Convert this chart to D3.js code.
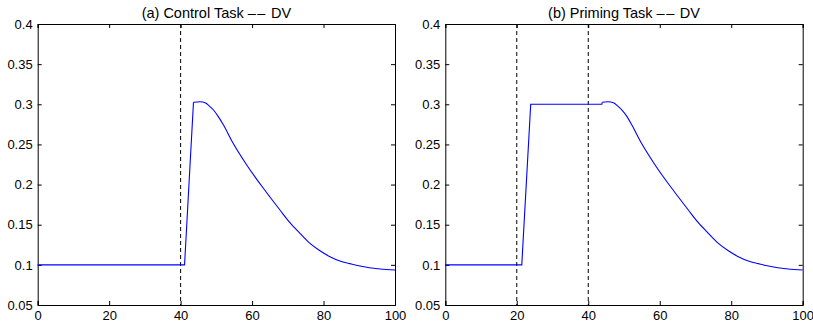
<!DOCTYPE html>
<html>
<head>
<meta charset="utf-8">
<script src="https://cdn.jsdelivr.net/npm/d3@7"></script>
<style>
  body { margin: 0; background: #fff; }
  svg { display: block; font-family: "Liberation Sans", Arial, Helvetica, sans-serif; }
</style>
</head>
<body>
<svg id="chart" width="813" height="329"></svg>
<script>
// tick values shared by both panels
const xTicks = [0, 20, 40, 60, 80, 100];
const yTicks = [0.05, 0.1, 0.15, 0.2, 0.25, 0.3, 0.35, 0.4];

// (a) control task -- DV trace (rise part, then smooth decay part)
const controlRiseX = [0, 41.1, 43.6];
const controlRiseY = [0.1, 0.1, 0.3025];
const controlDecayX = [43.6, 45.4, 47.0, 48.0, 49.2, 50.5, 52.0, 54.7, 58.5, 63.1, 65.0, 67.8, 70.6, 73.4, 76.2, 79.0, 81.8, 84.6, 87.4, 90.2, 95.8, 100];
const controlDecayY = [0.3025, 0.3032, 0.3015, 0.298, 0.2929, 0.285, 0.2742, 0.2514, 0.2244, 0.1957, 0.1845, 0.1683, 0.1525, 0.1393, 0.1268, 0.1176, 0.1102, 0.1048, 0.1015, 0.0985, 0.0948, 0.0936];
const controlMarks = [40];

// (b) priming task -- DV trace
const primingRiseX = [0, 21.4, 23.9, 43.8, 43.9];
const primingRiseY = [0.1, 0.1, 0.3, 0.3, 0.3025];
const primingDecayX = [43.9, 45.4, 47.2, 48.2, 49.5, 50.8, 52.2, 54.9, 58.7, 63.3, 65.2, 68.0, 70.8, 73.6, 76.4, 79.2, 82.0, 84.8, 87.6, 90.4, 95.9, 100];
const primingDecayY = [0.3025, 0.3032, 0.3015, 0.298, 0.2925, 0.285, 0.2742, 0.2514, 0.2244, 0.1957, 0.1845, 0.1683, 0.1525, 0.1393, 0.1268, 0.1176, 0.1102, 0.1048, 0.1015, 0.0985, 0.0948, 0.0936];
const primingMarks = [20, 40];

const svg = d3.select('#chart');

function drawPanel(left, right, label, rise, decay, marks) {
  const top = 24, bottom = 305;
  const x = d3.scaleLinear().domain([0, 100]).range([left, right]);
  const y = d3.scaleLinear().domain([0.05, 0.4]).range([bottom, top]);
  const g = svg.append('g');

  // ticks on all four sides, pointing inward
  g.append('g').attr('transform', `translate(0,${bottom})`)
    .call(d3.axisBottom(x).tickValues(xTicks).tickSize(-4).tickPadding(6).tickFormat(d3.format('d')));
  g.append('g').attr('transform', `translate(0,${top})`)
    .call(d3.axisTop(x).tickValues(xTicks).tickSize(-4).tickFormat(''));
  g.append('g').attr('transform', `translate(${left},0)`)
    .call(d3.axisLeft(y).tickValues(yTicks).tickSize(-4).tickPadding(5).tickFormat(d => String(+d.toFixed(2))));
  g.append('g').attr('transform', `translate(${right},0)`)
    .call(d3.axisRight(y).tickValues(yTicks).tickSize(-4).tickFormat(''));

  g.selectAll('.domain').attr('stroke', '#000').attr('stroke-width', 1);
  g.selectAll('.tick line').attr('stroke', '#000');
  g.selectAll('.tick text').attr('font-size', 13).attr('fill', '#000')
    .attr('font-family', '"Liberation Sans", Arial, sans-serif');

  // dashed stimulus markers
  g.selectAll('line.mark').data(marks).enter().append('line')
    .attr('class', 'mark')
    .attr('x1', d => x(d)).attr('x2', d => x(d))
    .attr('y1', top).attr('y2', bottom)
    .attr('stroke', '#000').attr('stroke-width', 1)
    .attr('stroke-dasharray', '4,3');

  const risePts = rise[0].map((v, i) => [v, rise[1][i]]);
  const decayPts = decay[0].map((v, i) => [v, decay[1][i]]);
  g.append('path').datum(risePts)
    .attr('fill', 'none').attr('stroke', '#0000ff').attr('stroke-width', 1.1)
    .attr('d', d3.line().x(d => x(d[0])).y(d => y(d[1])));
  g.append('path').datum(decayPts)
    .attr('fill', 'none').attr('stroke', '#0000ff').attr('stroke-width', 1.1)
    .attr('d', d3.line().curve(d3.curveMonotoneX).x(d => x(d[0])).y(d => y(d[1])));

  // title: "(x) Name Task -- DV", dashes drawn as two separated en dashes
  const t = g.append('text')
    .attr('x', (left + right) / 2).attr('y', 18)
    .attr('text-anchor', 'middle').attr('font-size', 14.5);
  t.append('tspan').text(label + ' ');
  t.append('tspan').attr('letter-spacing', 1.5).text('\u2013\u2013');
  t.append('tspan').text(' DV');
}

drawPanel(37.7, 395, '(a) Control Task', [controlRiseX, controlRiseY], [controlDecayX, controlDecayY], controlMarks);
drawPanel(445.3, 802.7, '(b) Priming Task', [primingRiseX, primingRiseY], [primingDecayX, primingDecayY], primingMarks);
</script>
</body>
</html>
